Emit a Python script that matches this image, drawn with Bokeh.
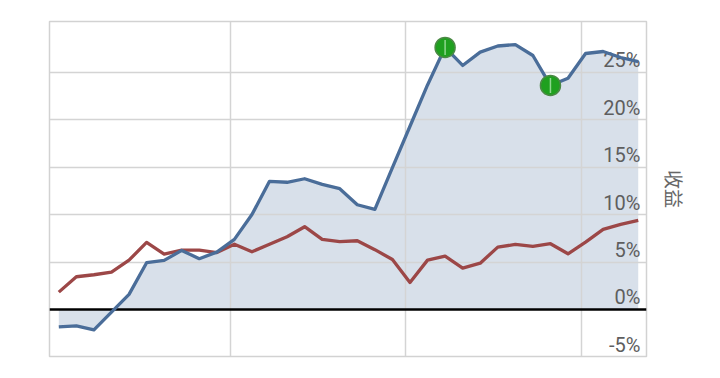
import math
from bokeh.plotting import figure
from bokeh.models import FixedTicker, Span, Range1d, LinearAxis
from bokeh.core.properties import value
from bokeh.embed import file_html
from bokeh.resources import INLINE

# ---- data ----
periods = list(range(34))
strategy = [-1.83, -1.73, -2.15, -0.27, 1.59, 4.93, 5.17, 6.22, 5.35, 6.04,
            7.38, 10.0, 13.5, 13.4, 13.77, 13.17, 12.72, 11.03, 10.54, 14.95,
            19.3, 23.65, 27.6, 25.7, 27.1, 27.75, 27.9, 26.75, 23.6, 24.35,
            26.96, 27.17, 26.54, 26.1]
benchmark = [1.83, 3.45, 3.66, 3.94, 5.2, 7.06, 5.83, 6.25, 6.25, 6.0,
             6.88, 6.08, 6.88, 7.66, 8.72, 7.38, 7.14, 7.24, 6.3, 5.27,
             2.85, 5.2, 5.62, 4.36, 4.88, 6.57, 6.85, 6.64, 6.93, 5.87,
             7.09, 8.43, 8.96, 9.38]
marked_points = [22, 28]
y_ticks = [-5, 0, 5, 10, 15, 20, 25]
y_tick_labels = ["-5%", "0%", "5%", "10%", "15%", "20%", "25%"]
axis_title = "收益"

x_start, x_end = -0.53, 33.47

p = figure(width=720, height=378, output_backend="svg", toolbar_location=None,
           x_axis_location=None, y_axis_location=None,
           x_range=Range1d(x_start, x_end), y_range=Range1d(-4.95, 30.33),
           min_border_left=49, min_border_right=74,
           min_border_top=21, min_border_bottom=22)
p.background_fill_color = "white"
p.border_fill_color = "white"
p.outline_line_color = "#d2d2d2"
p.outline_line_width = 1.5

p.xgrid.ticker = FixedTicker(ticks=[9.75, 19.75, 29.75])
p.ygrid.ticker = FixedTicker(ticks=[5, 10, 15, 20, 25])
for g in (p.xgrid, p.ygrid):
    g.grid_line_color = "#d4d4d4"
    g.grid_line_width = 1.5

# area under strategy curve
p.varea(x=periods, y1=[0] * len(periods), y2=strategy,
        fill_color="#d8e0ea", level="image")

zero = Span(location=0, dimension="width", line_color="black",
            line_width=2.5, level="underlay")
p.add_layout(zero)

# tick labels inside the plot, on the right
p.text(x=[x_end] * len(y_ticks), y=y_ticks, text=y_tick_labels,
       text_align="right", text_baseline="bottom", x_offset=-6, y_offset=0,
       text_font=value("Roboto"), text_font_size="20px", text_color="#5e5e5e")

p.line(periods, benchmark, line_color="#9c4747", line_width=3.3,
       line_join="round")
p.line(periods, strategy, line_color="#4a6d99", line_width=3.3,
       line_join="round")

mx = [periods[i] for i in marked_points]
my = [strategy[i] for i in marked_points]
p.scatter(mx, my, marker="circle", size=20, fill_color="#1fa01f",
          line_color="#4a8a44", line_width=1.5)
p.scatter(mx, my, marker="dash", angle=math.pi / 2, size=15,
          line_color="#8fd68f", line_width=1.5)

# axis title on the right, via an axis with no ticks
title_axis = LinearAxis(ticker=FixedTicker(ticks=[]), axis_label=axis_title,
                        axis_line_color=None, major_tick_line_color=None,
                        minor_tick_line_color=None, major_tick_out=0,
                        major_label_standoff=0, axis_label_standoff=14,
                        axis_label_text_font="Noto Sans CJK SC",
                        axis_label_text_font_size="19px",
                        axis_label_text_font_style="normal",
                        axis_label_text_color="#666666")
p.add_layout(title_axis, "right")

open("out.html", "w").write(file_html(p, INLINE))
